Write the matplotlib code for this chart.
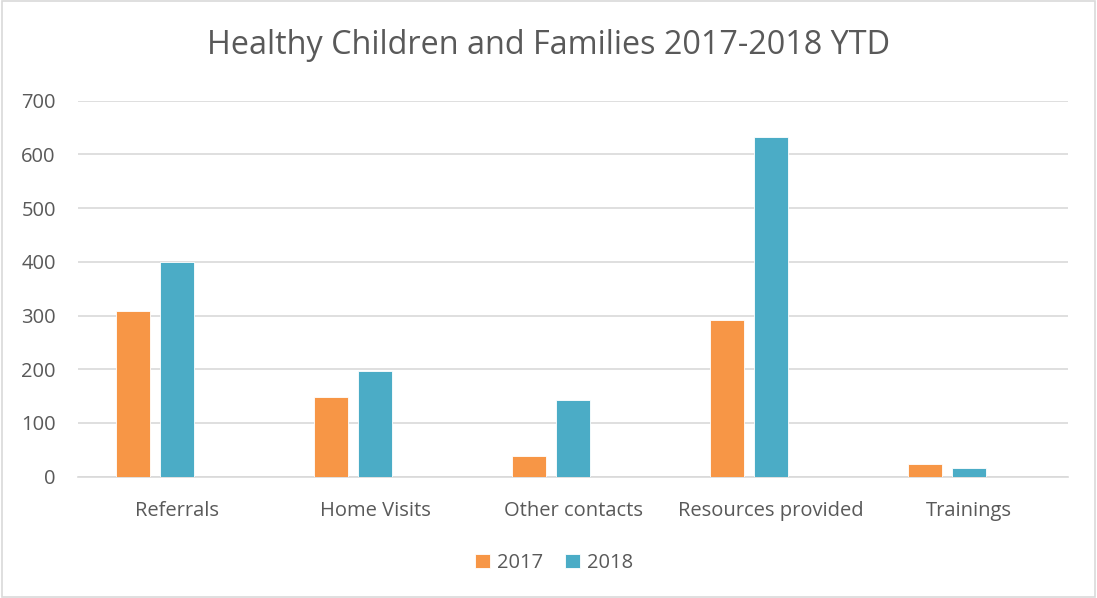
import matplotlib
matplotlib.use("Agg")
import matplotlib.pyplot as plt
from matplotlib.patches import Rectangle
import numpy as np

categories = ["Referrals", "Home Visits", "Other contacts", "Resources provided", "Trainings"]
series_names = ["2017", "2018"]
values_2017 = [308, 148, 39, 292, 24]
values_2018 = [400, 197, 142, 632, 17]
y_ticks = [0, 100, 200, 300, 400, 500, 600, 700]

plt.rcParams['font.family'] = ['Open Sans', 'DejaVu Sans']
gray = '#595959'
orange = '#F79646'
blue = '#4BACC6'

fig = plt.figure(figsize=(10.97, 5.98), dpi=100)
ax = fig.add_axes([78/1097, 1-476.7/598, (1068-78)/1097, (476.7-100.7)/598])

x = np.arange(len(categories))
w = 34/198
off = 44/198
ax.bar(x - off, values_2017, width=w, color=orange, edgecolor='white', linewidth=0.6, label=series_names[0], zorder=3)
ax.bar(x, values_2018, width=w, color=blue, edgecolor='white', linewidth=0.6, label=series_names[1], zorder=3)

ax.set_xlim(-0.5, len(categories) - 0.5)
ax.set_ylim(0, 700)
ax.set_yticks(y_ticks)
ax.set_xticks(x)
ax.set_xticklabels(categories)
ax.yaxis.grid(True, color='#D9D9D9', linewidth=1.2, zorder=0)
ax.set_axisbelow(True)
for s in ['top', 'right', 'left']:
    ax.spines[s].set_visible(False)
ax.spines['bottom'].set_color('#D9D9D9')
ax.spines['bottom'].set_linewidth(1.2)
ax.tick_params(axis='both', length=0, colors=gray, labelsize=14.5)
ax.tick_params(axis='y', pad=16)
ax.tick_params(axis='x', pad=17.5)

fig.text(0.5, 1-45/598, "Healthy Children and Families 2017-2018 YTD", ha='center', va='center',
         fontsize=23.3, color=gray)

leg = fig.legend(loc='center', bbox_to_anchor=(554/1097, 1-563/598), ncol=2, frameon=False,
                 fontsize=14.5, handlelength=0.75, handleheight=0.75, handletextpad=0.35, columnspacing=1.1)
for t in leg.get_texts():
    t.set_color(gray)

fig.patches.append(Rectangle((0.0015, 0.002), 0.997, 0.996, transform=fig.transFigure,
                             fill=False, edgecolor='#D9D9D9', linewidth=1.2))

fig.savefig("out.png", dpi=100)
